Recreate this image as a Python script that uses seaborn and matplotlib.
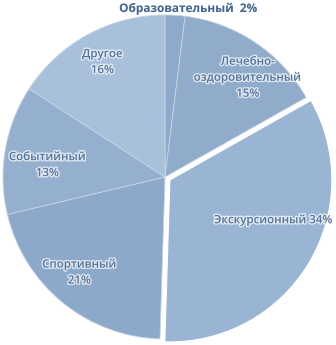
import matplotlib
matplotlib.use("Agg")
import numpy as np
import seaborn as sns
import matplotlib.pyplot as plt
import matplotlib.patheffects as pe

sns.set_style("white")
plt.rcParams['font.family'] = ['Open Sans', 'DejaVu Sans']

# data
categories = ["Образовательный", "Лечебно-\nоздоровительный", "Экскурсионный",
              "Спортивный", "Событийный", "Другое"]
shares = [2, 15, 34, 21, 13, 16]
label_text = ["Образовательный  2%", "Лечебно-\nоздоровительный\n15%", "Экскурсионный 34%",
              "Спортивный\n21%", "Событийный\n13%", "Другое\n16%"]

# styling
colors = ["#8eaacb", "#90acca", "#9ab5d3", "#8ca9ca", "#95b0cf", "#a8c0da"]
explode = [0, 0, 0.035, 0, 0, 0]
# label anchor: (radius, angle clockwise from top, degrees)
label_pos = [(1.05, 7.7), (0.80, 39.7), (0.72, 111.5), (0.79, 222), (0.73, 276), (0.81, 331.5)]

fig = plt.figure(figsize=(3.36, 3.45), dpi=100)
ax = fig.add_axes([0, 0, 1, 1])

wedges, _ = ax.pie(shares, colors=colors, explode=explode, startangle=90,
                   counterclock=False, radius=1.0,
                   wedgeprops=dict(edgecolor="#c4d4e6", linewidth=0.6))
# exploded slice outline
wedges[2].set_edgecolor("white")
wedges[2].set_linewidth(0.8)

for i, (txt, (r, ang)) in enumerate(zip(label_text, label_pos)):
    a = np.deg2rad(90 - ang)
    bold = i == 0
    ax.text(r * np.cos(a), r * np.sin(a), txt, ha="center", va="center",
            fontsize=8.5 if bold else 8.3, fontweight="bold" if bold else "semibold",
            color="#43668f" if bold else "#56769c", linespacing=1.3,
            path_effects=[pe.withStroke(linewidth=2, foreground="white", alpha=0.7)])

px = 162.0
ax.set_xlim(-165 / px, (336 - 165) / px)
ax.set_ylim(-(345 - 177) / px, 177 / px)
ax.set_aspect("equal")
ax.axis("off")

fig.savefig("out.png", dpi=100)
